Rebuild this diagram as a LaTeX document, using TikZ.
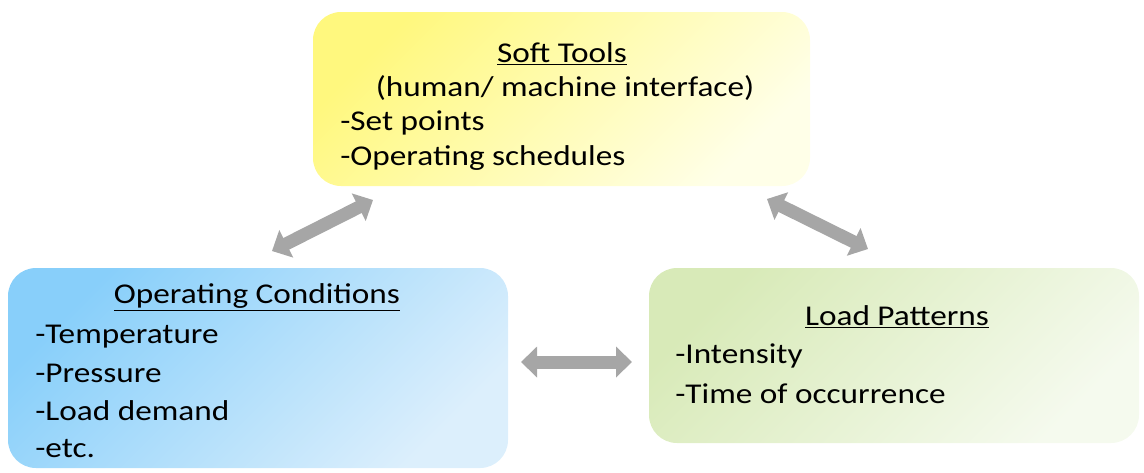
\documentclass[tikz,border=0pt]{standalone}
\usepackage{fontspec}
\setmainfont[FakeStretch=1.16]{Carlito}
\usetikzlibrary{arrows.meta,positioning}

\definecolor{softA}{HTML}{FFF87E}
\definecolor{softB}{HTML}{FFFFE8}
\definecolor{condA}{HTML}{88CFFA}
\definecolor{condB}{HTML}{DCEFFC}
\definecolor{loadA}{HTML}{D8EAB8}
\definecolor{loadB}{HTML}{F5FAEE}
\definecolor{linkgray}{HTML}{A6A6A6}

\tikzset{
  box/.style n args={2}{rectangle, rounded corners=21pt, inner sep=0pt,
    top color=#1, bottom color=#2, shading angle=45},
  title/.style={anchor=base, inner sep=0pt, font=\fontsize{21.5}{26}\selectfont},
  item/.style={anchor=base west, inner sep=0pt, font=\fontsize{21.5}{26}\selectfont},
  link/.style={linkgray, line width=9.75pt,
    arrows={Triangle[width=22.5pt,length=12pt]-Triangle[width=22.5pt,length=12pt]}}
}

\begin{document}
\begin{tikzpicture}[x=0.75pt,y=-0.75pt]
    \useasboundingbox (0,0) rectangle (1144,472);

    % Soft Tools
    \node[box={softA}{softB}, minimum width=372.75pt, minimum height=130.5pt] (soft) at (561.5,99) {};
    \node[title] (softtitle) at (562,62) {\underline{Soft Tools}};
    \node[title] (softsub) at (565,96) {(human/ machine interface)};
    \node[item] (soft1) at (340,130) {-Set points};
    \node[item] (soft2) at (340,165) {-Operating schedules};

    % Operating Conditions
    \node[box={condA}{condB}, minimum width=375pt, minimum height=150pt] (cond) at (258,368) {};
    \node[title] (condtitle) at (257,303) {\underline{Operating Conditions}};
    \node[item] (cond1) at (35,343) {-Temperature};
    \node[item] (cond2) at (35,382) {-Pressure};
    \node[item] (cond3) at (35,420) {-Load demand};
    \node[item] (cond4) at (35,457) {-etc.};

    % Load Patterns
    \node[box={loadA}{loadB}, minimum width=367.5pt, minimum height=131.25pt] (load) at (894,355.5) {};
    \node[title] (loadtitle) at (897,325) {\underline{Load Patterns}};
    \node[item] (load1) at (675,363) {-Intensity};
    \node[item] (load2) at (675,403) {-Time of occurrence};

    % Links
    \coordinate (lnk1a) at (272,251);
    \coordinate (lnk1b) at (373,200);
    \coordinate (lnk2a) at (767,199);
    \coordinate (lnk2b) at (868,249);
    \coordinate (lnk3a) at (521,362);
    \coordinate (lnk3b) at (632,362);
    \draw[link] (lnk1a) -- (lnk1b);
    \draw[link] (lnk2a) -- (lnk2b);
    \draw[link] (lnk3a) -- (lnk3b);
\end{tikzpicture}
\end{document}
